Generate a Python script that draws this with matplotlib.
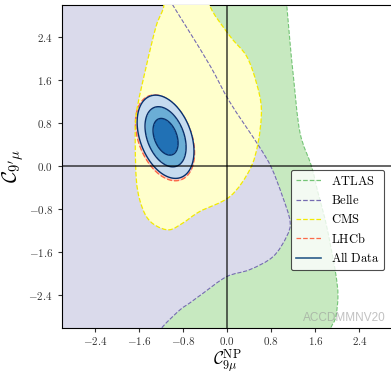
import numpy as np
import matplotlib
matplotlib.use("Agg")
import matplotlib.pyplot as plt
from matplotlib.lines import Line2D
from matplotlib.path import Path
from matplotlib.patches import PathPatch

plt.rcParams['mathtext.fontset'] = 'cm'
plt.rcParams['font.family'] = ['DejaVu Serif']

# ---- data ----
# ATLAS region boundary (region lies to the left of it)
atlas_x = [1.05, 1.08, 1.14, 1.20, 1.32, 1.53, 1.65, 1.78, 1.88, 1.97, 2.01, 1.97, 1.88, 1.75]
atlas_y = [3.30, 3.00, 2.30, 1.68, 0.63, 0.00, -0.50, -1.00, -1.50, -2.00, -2.40, -2.80, -3.00, -3.30]

# Belle region boundary (region lies to the left of it)
belle_x = [-1.15, -0.99, -0.68, -0.30, 0.05, 0.56, 0.80, 1.00, 1.14, 1.08, 0.83, 0.41, -0.01, -0.44, -0.68, -0.86, -1.17, -1.40]
belle_y = [3.30, 3.00, 2.49, 1.85, 1.19, 0.40, -0.02, -0.55, -1.02, -1.30, -1.68, -1.92, -2.05, -2.36, -2.54, -2.67, -2.98, -3.30]

# CMS region boundary (closed)
cms_x = [-0.25, -0.32, 0.05, 0.35, 0.53, 0.62, 0.56, 0.41, 0.05, -0.50, -0.80, -1.05, -1.30, -1.47, -1.59, -1.65, -1.67, -1.65, -1.47, -1.29, -1.15, -1.22]
cms_y = [3.40, 3.00, 2.42, 2.05, 1.55, 1.06, 0.44, -0.06, -0.56, -0.84, -1.05, -1.18, -1.10, -0.93, -0.62, -0.25, 0.40, 0.99, 1.86, 2.61, 3.00, 3.40]

# Gaussian fits: centre, sigmas, correlation
alldata_mu = [-1.12, 0.55]
alldata_sig = [0.150, 0.225]
alldata_rho = -0.35
lhcb_mu = [-1.13, 0.53]
lhcb_sig = [0.156, 0.232]
lhcb_rho = -0.35

sigma_levels = [2.30, 6.18, 11.83]   # 1, 2, 3 sigma in 2D

ticks = [-2.4, -1.6, -0.8, 0.0, 0.8, 1.6, 2.4]
labels = ['ATLAS', 'Belle', 'CMS', 'LHCb', 'All Data']

# colours
c_atlas_fill, c_atlas_line = '#c7e9c0', '#74c476'
c_belle_fill, c_belle_line = '#dadaeb', '#756bb1'
c_cms_fill, c_cms_line = '#ffffcc', '#f2ea00'
c_lhcb_fill, c_lhcb_line = '#fdd0c2', '#fb6a4a'
c_all_fills = ['#2171b5', '#6baed6', '#c6dbef']
c_all_line = '#08306b'
c_all_leg = '#2b5c8a'


def smooth_path(xs, ys, closed=False, extra=None):
    """Catmull-Rom curve through the given boundary points, as Bezier path."""
    P = np.column_stack([xs, ys]).astype(float)
    n = len(P)
    verts = [P[0]]
    codes = [Path.MOVETO]
    nseg = n if closed else n - 1
    for i in range(nseg):
        p0 = P[(i - 1) % n] if (closed or i > 0) else P[i]
        p1 = P[i % n]
        p2 = P[(i + 1) % n]
        p3 = P[(i + 2) % n] if (closed or i + 2 < n) else P[(i + 1) % n]
        c1 = p1 + (p2 - p0) / 6.0
        c2 = p2 - (p3 - p1) / 6.0
        verts += [c1, c2, p2]
        codes += [Path.CURVE4] * 3
    if extra is not None:
        for e in extra:
            verts.append(e)
            codes.append(Path.LINETO)
    if closed or extra is not None:
        verts.append(P[0])
        codes.append(Path.CLOSEPOLY)
    return Path(verts, codes)


fig = plt.figure(figsize=(3.91, 3.73), dpi=100)
ax = fig.add_axes([62/391, 1-327.7/373, 330.5/391, 322.7/373])

L = -4.0
# ATLAS
ax.add_patch(PathPatch(smooth_path(atlas_x, atlas_y, extra=[(L, atlas_y[-1]), (L, atlas_y[0])]),
                       facecolor=c_atlas_fill, lw=0, zorder=1))
# Belle
ax.add_patch(PathPatch(smooth_path(belle_x, belle_y, extra=[(L, belle_y[-1]), (L, belle_y[0])]),
                       facecolor=c_belle_fill, lw=0, zorder=2))
# CMS
ax.add_patch(PathPatch(smooth_path(cms_x, cms_y, closed=True),
                       facecolor=c_cms_fill, lw=0, zorder=3))

gx = np.linspace(-3.2, 3.2, 700)
X, Y = np.meshgrid(gx, gx)


def chi2(mu, sig, rho):
    dx = (X - mu[0]) / sig[0]
    dy = (Y - mu[1]) / sig[1]
    return (dx**2 + dy**2 - 2*rho*dx*dy) / (1 - rho**2)


# LHCb
Zl = chi2(lhcb_mu, lhcb_sig, lhcb_rho)
ax.contourf(X, Y, Zl, levels=[0, sigma_levels[2]], colors=[c_lhcb_fill], zorder=4)
ax.contour(X, Y, Zl, levels=[sigma_levels[2]], colors=[c_lhcb_line], linestyles='--', linewidths=1.0, zorder=4.5)

# All data
Za = chi2(alldata_mu, alldata_sig, alldata_rho)
ax.contourf(X, Y, Za, levels=[0] + sigma_levels, colors=c_all_fills, zorder=5)
ax.contour(X, Y, Za, levels=sigma_levels, colors=[c_all_line], linewidths=1.0, zorder=5.5)

# boundaries
ax.add_patch(PathPatch(smooth_path(atlas_x, atlas_y), facecolor='none', edgecolor=c_atlas_line,
                       ls='--', lw=0.8, zorder=6))
ax.add_patch(PathPatch(smooth_path(belle_x, belle_y), facecolor='none', edgecolor=c_belle_line,
                       ls='--', lw=0.8, zorder=6))
ax.add_patch(PathPatch(smooth_path(cms_x, cms_y, closed=True), facecolor='none', edgecolor=c_cms_line,
                       ls='--', lw=0.9, zorder=6))

ax.axhline(0, color='black', lw=1.2, alpha=0.7, zorder=7)
ax.axvline(0, color='black', lw=1.2, alpha=0.7, zorder=7)

ax.set_xlim(-3, 3)
ax.set_ylim(-3, 3)
ax.set_xticks(ticks)
ax.set_yticks(ticks)
ax.set_xticklabels([f'${t:.1f}$' for t in ticks], fontsize=8)
ax.set_yticklabels([f'${t:.1f}$' for t in ticks], fontsize=8)
ax.tick_params(direction='out', length=3, width=0.8, colors='#333333', labelcolor='#333333')
ax.tick_params(axis='x', pad=2.5)

ax.set_xlabel(r'$\mathcal{C}_{9\mu}^{\rm NP}$', fontsize=12.5, labelpad=0)
ax.set_ylabel(r"$\mathcal{C}_{9'\mu}$", fontsize=15, labelpad=2)

handles = [
    Line2D([], [], color=c_atlas_line, ls='--', lw=0.9),
    Line2D([], [], color=c_belle_line, ls='--', lw=0.9),
    Line2D([], [], color=c_cms_line, ls='--', lw=0.9),
    Line2D([], [], color=c_lhcb_line, ls='--', lw=0.9),
    Line2D([], [], color=c_all_leg, ls='-', lw=1.2),
]
leg = ax.legend(handles, [r'$\mathrm{%s}$' % l.replace(' ', r'\ ') for l in labels],
                loc='lower right', bbox_to_anchor=(0.975, 0.178), borderaxespad=0,
                fontsize=9, frameon=True, fancybox=True, handlelength=2.0,
                labelspacing=0.45, framealpha=0.8, edgecolor='#222222')
leg.set_zorder(10)
leg.get_frame().set_linewidth(0.8)

ax.text(0.979, 0.012, 'ACCDMMNV20', transform=ax.transAxes, ha='right', va='bottom',
        fontsize=8.5, family='Liberation Sans', color='#999999', alpha=0.6, zorder=9)

fig.savefig('out.png', dpi=100)
